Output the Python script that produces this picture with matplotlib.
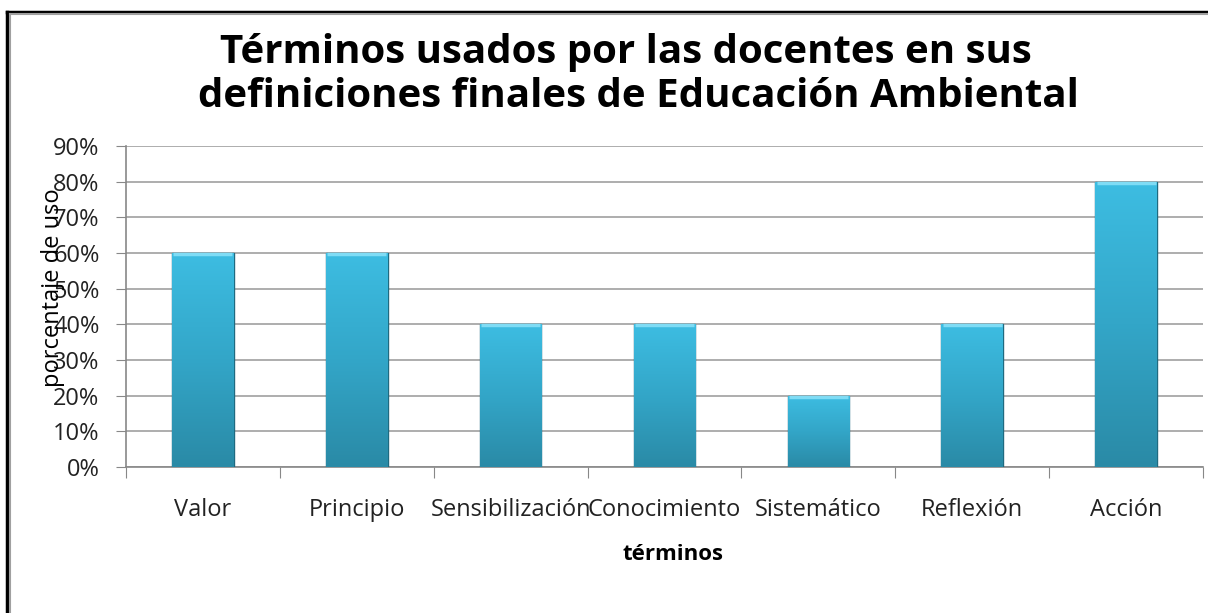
import numpy as np
import matplotlib
matplotlib.use("Agg")
import matplotlib.pyplot as plt
from matplotlib.lines import Line2D
from matplotlib.ticker import PercentFormatter

terms = ['Valor', 'Principio', 'Sensibilización', 'Conocimiento',
         'Sistemático', 'Reflexión', 'Acción']
usage = [60, 60, 40, 40, 20, 40, 80]
y_ticks = [0, 10, 20, 30, 40, 50, 60, 70, 80, 90]

plt.rcParams['font.family'] = ['Open Sans', 'DejaVu Sans']

W, H = 1208, 613
fig = plt.figure(figsize=(W / 100, H / 100), dpi=100)
ax = fig.add_axes([126 / W, 1 - 467 / H, (1203 - 126) / W, (467 - 146) / H])

x = np.arange(len(terms))
bars = ax.bar(x, usage, width=0.4, color='#34A9CB', edgecolor='#1f6a80',
              linewidth=1.0, zorder=3)

# vertical gradient inside each bar (lighter top, darker bottom)
grad = np.linspace(0, 1, 256).reshape(-1, 1)
cmap = matplotlib.colors.LinearSegmentedColormap.from_list(
    'bar', ['#2a8aa6', '#33a6c8', '#3dbde2'])
for b in bars:
    x0, w, h = b.get_x(), b.get_width(), b.get_height()
    im = ax.imshow(grad, extent=[x0, x0 + w, 0, h], origin='lower',
                   cmap=cmap, aspect='auto', zorder=3.5)
    im.set_clip_path(b)
    # light bevel on top
    ax.plot([x0 + w * 0.02, x0 + w * 0.98], [h - 0.3, h - 0.3],
            color='#7fdcf5', lw=2.5, zorder=4, solid_capstyle='butt')

ax.set_xlim(-0.5, len(terms) - 0.5)
ax.set_ylim(0, 90)
ax.set_yticks(y_ticks)
ax.yaxis.set_major_formatter(PercentFormatter(decimals=0))
ax.set_xticks(np.arange(len(terms) + 1) - 0.5, minor=False)
ax.set_xticklabels([])
ax.set_xticks(x, minor=True)
ax.set_xticklabels(terms, minor=True)
ax.tick_params(axis='x', which='minor', length=0, pad=22, labelsize=17, labelcolor='#222222')
ax.tick_params(axis='x', which='major', length=8, color='#888888', direction='out')
ax.tick_params(axis='y', length=7, color='#888888', labelsize=17, labelcolor='#222222', pad=12)
ax.grid(axis='y', color='#a0a0a0', linewidth=1.2, zorder=0)
for s in ['top', 'right']:
    ax.spines[s].set_visible(False)
for s in ['left', 'bottom']:
    ax.spines[s].set_color('#888888')
    ax.spines[s].set_linewidth(1.2)

fig.text(626 / W, 1 - 63 / H, 'Términos usados por las docentes en sus',
         ha='center', va='baseline', fontsize=29, fontweight='bold')
fig.text(638 / W, 1 - 107 / H, 'definiciones finales de Educación Ambiental',
         ha='center', va='baseline', fontsize=29, fontweight='bold')
fig.text(53 / W, 1 - 288 / H, 'porcentaje de uso', rotation=90,
         ha='center', va='center', fontsize=17)
fig.text(673 / W, 1 - 555 / H, 'términos', ha='center', va='center',
         fontsize=16, fontweight='bold')

# outer frame (top and left only, as in the screenshot)
fig.add_artist(Line2D([7 / W, 1], [1 - 11.5 / H, 1 - 11.5 / H], color='black', lw=2.5))
fig.add_artist(Line2D([7 / W, 7 / W], [0, 1 - 11.5 / H], color='black', lw=2.5))
fig.add_artist(Line2D([10 / W, 1], [1 - 14 / H, 1 - 14 / H], color='#a0a0a0', lw=1.5))
fig.add_artist(Line2D([10 / W, 10 / W], [0, 1 - 14 / H], color='#a0a0a0', lw=1.5))

fig.savefig('out.png', dpi=100)
